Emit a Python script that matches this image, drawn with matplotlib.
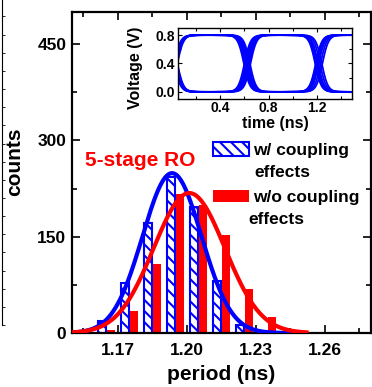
import numpy as np
import matplotlib
matplotlib.use('Agg')
import matplotlib.pyplot as plt
from matplotlib.patches import Rectangle
from matplotlib.ticker import MultipleLocator, FormatStrFormatter

# period histogram, bin centres (ns) and counts
period_w = [1.153, 1.163, 1.173, 1.183, 1.193, 1.203, 1.213, 1.223, 1.233]
counts_w = [2, 19, 78, 171, 243, 196, 81, 12, 2]
period_wo = [1.157, 1.167, 1.177, 1.187, 1.197, 1.207, 1.217, 1.227, 1.237, 1.247]
counts_wo = [1, 5, 35, 108, 216, 200, 153, 68, 25, 2]

# gaussian fits: peak, mean, sigma
fit_w = (249, 1.1935, 0.0128)
fit_wo = (218, 1.2010, 0.0155)

# inset eye diagram: edge times (ns) of each overlaid trace
edges_rise_first = [(0.020, 0.595, 1.190), (0.025, 0.605, 1.195), (0.030, 0.615, 1.200),
                    (0.035, 0.625, 1.205), (0.040, 0.635, 1.210), (0.045, 0.645, 1.215),
                    (0.030, 0.610, 1.230), (0.035, 0.620, 1.245)]
edges_fall_first = [(0.020, 0.600, 1.185), (0.025, 0.610, 1.190), (0.030, 0.620, 1.195),
                    (0.035, 0.630, 1.200), (0.040, 0.640, 1.205), (0.045, 0.650, 1.210),
                    (0.030, 0.615, 1.225), (0.040, 0.625, 1.240)]
v_low, v_high = 0.0, 0.8
t_edge = 0.05

plt.rcParams['font.family'] = ['Liberation Sans', 'DejaVu Sans']
plt.rcParams['font.weight'] = 'bold'
plt.rcParams['axes.labelweight'] = 'bold'
plt.rcParams['hatch.linewidth'] = 1.5
plt.rcParams['hatch.color'] = 'blue'

fig = plt.figure(figsize=(3.72, 3.87), dpi=100)
ax = fig.add_axes([72/372, 54/387, 299/372, 321/387])


def gauss(x, a, mu, s):
    return a * np.exp(-(x - mu)**2 / (2 * s**2))


ax.bar(period_w, counts_w, width=0.0034, facecolor='white', edgecolor='blue',
       hatch='\\\\\\', linewidth=1.5, zorder=2)
ax.bar(period_wo, counts_wo, width=0.0034, color='red', zorder=2)

xw = np.linspace(1.15, 1.245, 300)
xwo = np.linspace(1.15, 1.252, 300)
ax.plot(xw, gauss(xw, *fit_w), color='blue', lw=3, zorder=3)
ax.plot(xwo, gauss(xwo, *fit_wo), color='red', lw=3, zorder=4)

ax.set_xlim(1.15, 1.28)
ax.set_ylim(0, 500)
ax.xaxis.set_major_locator(MultipleLocator(0.03))
ax.xaxis.set_minor_locator(MultipleLocator(0.015))
ax.xaxis.set_major_formatter(FormatStrFormatter('%.2f'))
ax.yaxis.set_major_locator(MultipleLocator(150))
ax.yaxis.set_minor_locator(MultipleLocator(75))
ax.tick_params(which='both', direction='in', top=True, right=True, labelsize=12.5, width=1.2)
ax.tick_params(which='major', length=6)
ax.tick_params(which='minor', length=3.5)
ax.tick_params(axis='x', pad=7)
ax.tick_params(axis='y', pad=4)
for sp in ax.spines.values():
    sp.set_linewidth(1.6)

ax.set_xlabel('period (ns)', fontsize=15, fontweight='bold')
ax.set_ylabel('counts', fontsize=15, fontweight='bold')
ax.xaxis.set_label_coords(0.5, -0.1)
ax.yaxis.set_label_coords(-0.16, 0.533)

ax.text(0.0435, 0.52, '5-stage RO', color='red', fontsize=15, transform=ax.transAxes)

# legend drawn by hand so the swatch sits on the first line of each label
ax.add_patch(Rectangle((0.4716, 0.551), 0.1204, 0.0436, transform=ax.transAxes,
                       facecolor='white', edgecolor='blue', hatch='\\\\\\', lw=1.5, zorder=5))
ax.add_patch(Rectangle((0.4716, 0.408), 0.1204, 0.0374, transform=ax.transAxes,
                       facecolor='red', edgecolor='none', zorder=5))
ax.text(0.605, 0.5545, 'w/ coupling', fontsize=12.5, transform=ax.transAxes, va='baseline')
ax.text(0.609, 0.486, 'effects', fontsize=12.5, transform=ax.transAxes, va='baseline')
ax.text(0.605, 0.408, 'w/o coupling', fontsize=12.5, transform=ax.transAxes, va='baseline')
ax.text(0.590, 0.3396, 'effects', fontsize=12.5, transform=ax.transAxes, va='baseline')

# inset: eye diagram of the ring oscillator output
axi = fig.add_axes([178/372, 288/387, 174/372, 71/387])
t = np.linspace(0.05, 1.49, 800)
mid, amp = (v_high + v_low) / 2, (v_high - v_low) / 2
for pol, rows in ((1, edges_rise_first), (-1, edges_fall_first)):
    for c0, c1, c2 in rows:
        v = mid + amp * pol * np.tanh((t - c0) / t_edge) * -np.tanh((t - c1) / t_edge) \
            * -np.tanh((t - c2) / t_edge)
        axi.plot(t, v, color='blue', lw=1.3)
axi.set_xlim(0.05, 1.49)
axi.set_ylim(-0.1, 0.9)
axi.xaxis.set_major_locator(MultipleLocator(0.4))
axi.xaxis.set_minor_locator(MultipleLocator(0.2))
axi.yaxis.set_major_locator(MultipleLocator(0.4))
axi.yaxis.set_minor_locator(MultipleLocator(0.2))
axi.xaxis.set_major_formatter(FormatStrFormatter('%.1f'))
axi.yaxis.set_major_formatter(FormatStrFormatter('%.1f'))
axi.tick_params(which='both', direction='in', top=True, right=True, labelsize=10, width=0.8, pad=2)
axi.tick_params(axis='x', pad=1.5)
axi.tick_params(which='major', length=3)
axi.tick_params(which='minor', length=2)
for sp in axi.spines.values():
    sp.set_linewidth(1.0)
axi.set_xlabel('time (ns)', fontsize=11.5, fontweight='bold')
axi.set_ylabel('Voltage (V)', fontsize=11.5, fontweight='bold')
axi.xaxis.set_label_coords(0.557, -0.235)
axi.yaxis.set_label_coords(-0.2, 0.44)

# edge of the neighbouring panel
axl = fig.add_axes([-0.05, 62/387, 0.05 + 1.7/372, 330/387])
for side in ('left', 'top', 'bottom'):
    axl.spines[side].set_visible(False)
axl.spines['right'].set_linewidth(0.8)
axl.set_xticks([])
axl.set_ylim(0, 1)
axl.yaxis.tick_right()
axl.yaxis.set_major_locator(MultipleLocator(0.055))
axl.tick_params(axis='y', direction='out', length=2, width=0.6, labelright=False)

fig.savefig('out.png', dpi=100)
